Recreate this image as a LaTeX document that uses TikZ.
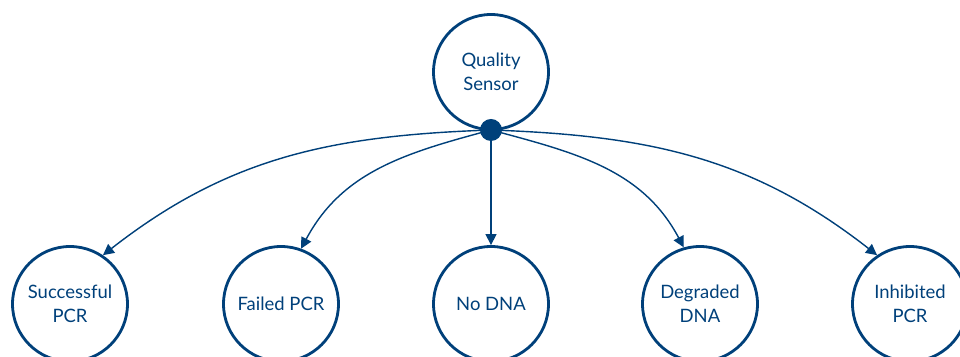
\documentclass[tikz,border=0pt]{standalone}
\usepackage{fontspec}
\setmainfont{Lato}
\usetikzlibrary{arrows.meta}
\definecolor{qblue}{RGB}{0,64,122}
\tikzset{
  state/.style={circle, draw=qblue, line width=1.6pt, minimum size=2.3cm, inner sep=0pt,
    align=center, text=qblue, font=\fontsize{10.5}{13.5}\selectfont},
  link/.style={draw=qblue, line width=0.8pt, -{Triangle[length=0.22cm,width=0.22cm]}}
}
\begin{document}
\begin{tikzpicture}
      \useasboundingbox (0,0) rectangle (19.2,7.14);
      \node[state] (sensor) at (9.82,5.70) {Quality\\Sensor};
      \node[circle, fill=qblue, minimum size=0.44cm, inner sep=0pt] (hub) at (9.82,4.54) {};
      \node[state] (succ) at (1.40,1.06) {Successful\\PCR};
      \node[state] (failed) at (5.62,1.06) {Failed PCR};
      \node[state] (nodna) at (9.82,1.06) {No DNA};
      \node[state] (degr) at (14.00,1.06) {Degraded\\DNA};
      \node[state] (inhib) at (18.20,1.06) {Inhibited\\PCR};
      \draw[link] (hub.center) to[out=182, in=38] (succ.56);
      \draw[link] (hub.center) to[out=195, in=62] (failed.70);
      \draw[link] (hub) -- (nodna);
      \draw[link] (hub.center) to[out=-15, in=118] (degr.106);
      \draw[link] (hub.center) to[out=-2, in=142] (inhib.124);
\end{tikzpicture}
\end{document}
